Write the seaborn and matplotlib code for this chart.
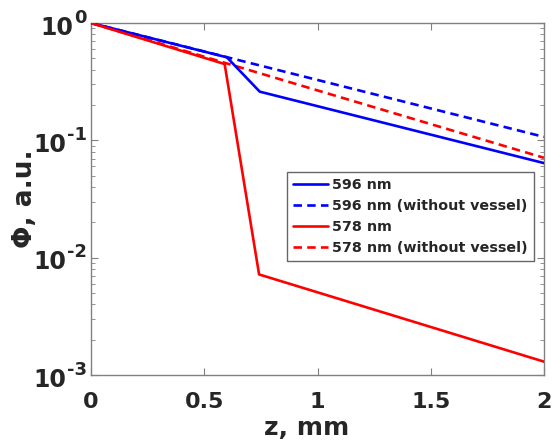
import numpy as np
import pandas as pd
import matplotlib
matplotlib.use("Agg")
import matplotlib.pyplot as plt
from matplotlib.ticker import NullFormatter
import seaborn as sns

# data
z_596 = [0, 0.6, 0.745, 2]
phi_596 = [1, 0.51, 0.26, 0.064]
z_596_nv = [0, 2]
phi_596_nv = [1, 0.107]
z_578 = [0, 0.59, 0.742, 2]
phi_578 = [1, 0.447, 0.0072, 0.0013]
z_578_nv = [0, 2]
phi_578_nv = [1, 0.071]

series = ["596 nm", "596 nm (without vessel)", "578 nm", "578 nm (without vessel)"]
xticks = [0, 0.5, 1, 1.5, 2]
xtick_labels = ["0", "0.5", "1", "1.5", "2"]
yticks = [1e0, 1e-1, 1e-2, 1e-3]
ytick_exps = ["0", "-1", "-2", "-3"]

sns.set_style("ticks")
plt.rcParams["font.family"] = ["DejaVu Sans"]

fig = plt.figure(figsize=(5.6, 4.47), dpi=100)
ax = fig.add_axes([0.1625, 0.161, 0.809, 0.7875])

data = [(z_596, phi_596, "blue", "-", 3),
        (z_596_nv, phi_596_nv, "blue", "--", 2),
        (z_578, phi_578, "red", "-", 3),
        (z_578_nv, phi_578_nv, "red", "--", 2)]
for name, (z, phi, c, ls, zo) in zip(series, data):
    sns.lineplot(x=z, y=phi, color=c, linestyle=ls, linewidth=1.9, label=name,
                 ax=ax, zorder=zo)
for ln in ax.get_lines():
    if ln.get_linestyle() == "--":
        ln.set_dashes((3.2, 2.0))

ax.set_yscale("log")
ax.set_xlim(0, 2)
ax.set_ylim(1e-3, 1)
ax.set_xticks(xticks)
ax.set_xticklabels(xtick_labels, fontsize=16, fontweight="bold")
ax.set_yticks(yticks)
ax.set_yticklabels([""] * len(yticks))
ax.yaxis.set_minor_formatter(NullFormatter())
ax.tick_params(which="both", direction="in", top=True, right=True, color="#808080")
ax.tick_params(which="major", length=5, width=0.8)
ax.tick_params(axis="x", which="major", pad=12)
ax.tick_params(which="minor", length=3, width=0.6)
ax.tick_params(axis="x", which="minor", top=False, bottom=False)
for s in ax.spines.values():
    s.set_color("#808080")
    s.set_linewidth(1)

# y tick labels as 10 with a large exponent, matlab style
ytr = ax.get_yaxis_transform()
for t, e in zip(yticks, ytick_exps):
    ex = ax.annotate(e, xy=(0, t), xycoords=ytr, xytext=(-4, 5.5),
                     textcoords="offset pixels", ha="right", va="center",
                     fontsize=13, fontweight="bold")
    ax.annotate("10", xy=(0, t), xycoords=(ex, ytr), xytext=(-1, -4.5),
                textcoords="offset pixels", ha="right", va="center",
                fontsize=17, fontweight="bold")

ax.set_xlabel("z, mm", fontsize=18, fontweight="bold")
ax.set_ylabel("Φ, a.u.", fontsize=19, fontweight="bold")
ax.xaxis.set_label_coords(0.475, -0.115)
ax.yaxis.set_label_coords(-0.118, 0.5)

leg = ax.legend(loc="upper right", bbox_to_anchor=(0.978, 0.577), borderaxespad=0,
                fancybox=False, edgecolor="#666666", framealpha=1,
                prop={"weight": "bold", "size": 10.3}, handlelength=2.4,
                handletextpad=0.3, labelspacing=0.48, borderpad=0.45)
leg.get_frame().set_linewidth(1)

fig.savefig("out.png", dpi=100)
